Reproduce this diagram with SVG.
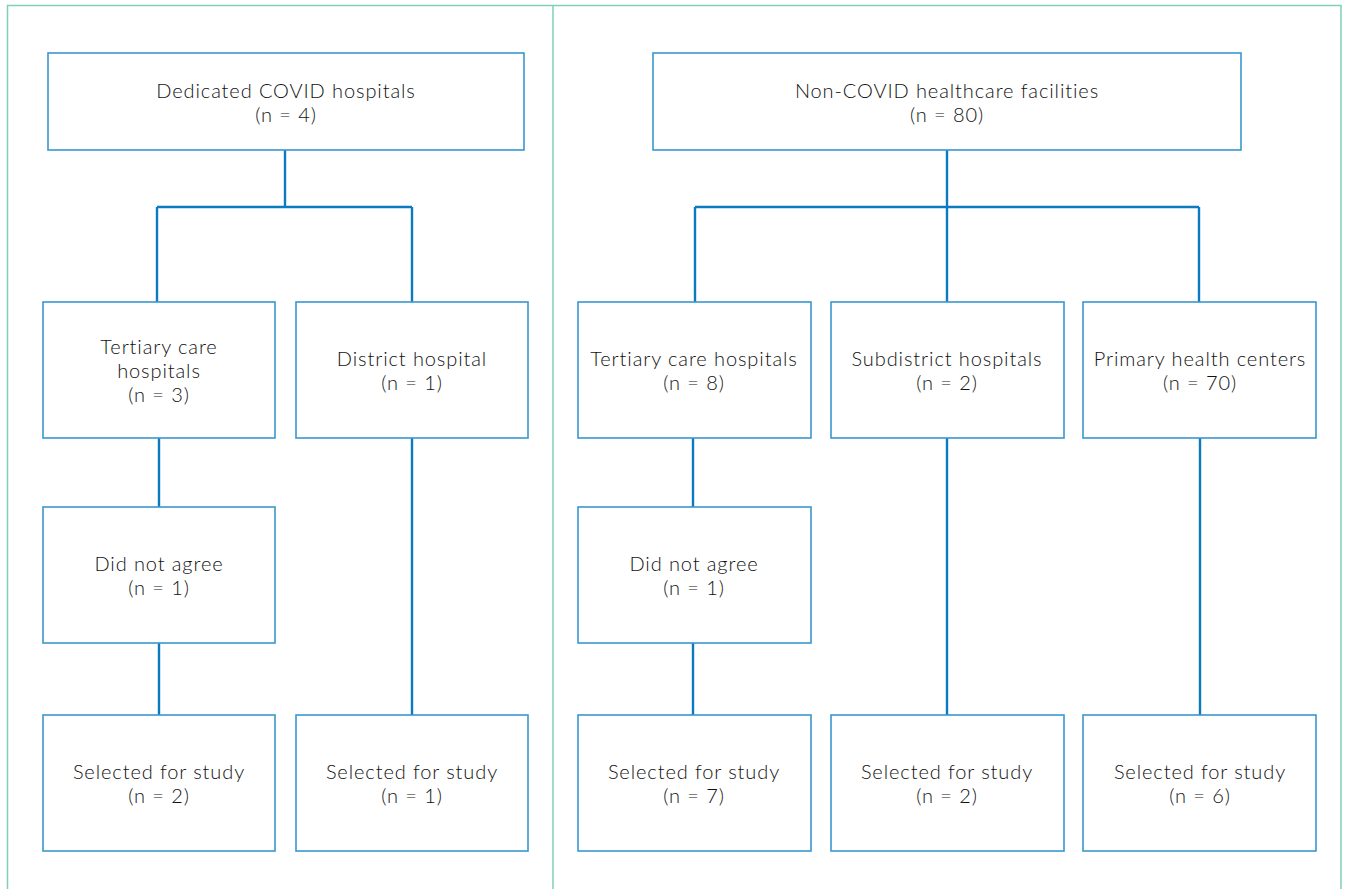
<svg xmlns="http://www.w3.org/2000/svg" width="1346" height="889" viewBox="0 0 1346 889">
<style>
.frame{fill:none;stroke:#7fd1b5;stroke-width:1.5}
.box{fill:#fff;stroke:#3a97d0;stroke-width:1.6}
.conn{fill:none;stroke:#0b7bc0;stroke-width:2.4}
text{font-family:Lato,"Noto Sans","Liberation Sans",sans-serif;font-size:20px;letter-spacing:0.9px;font-weight:300;fill:#111;text-anchor:middle}
</style>
<rect width="1346" height="889" fill="#fff"/>
<g id="frame">
<path class="frame" d="M7.5,895 V5.5 H1341 V895"/>
<line class="frame" x1="553" y1="5.5" x2="553" y2="895"/>
</g>
<g id="connectors">
<path class="conn" d="M285,150 V207 M157,207 H412 M157,207 V302 M412,207 V302"/>
<path class="conn" d="M159,438 V507 M159,643 V715 M412,438 V715"/>
<path class="conn" d="M947,150 V207 M695,207 H1199 M695,207 V302 M947,207 V302 M1199,207 V302"/>
<path class="conn" d="M693,438 V507 M693,641 V715 M947,438 V715 M1200,438 V715"/>
</g>
<g id="n1"><rect class="box" x="48" y="53" width="476" height="97"/><text x="286" y="98">Dedicated COVID hospitals<tspan x="286" dy="24">(n = 4)</tspan></text></g>
<g id="n2"><rect class="box" x="653" y="53" width="588" height="97"/><text x="947" y="98">Non-COVID healthcare facilities<tspan x="947" dy="24">(n = 80)</tspan></text></g>
<g id="n3"><rect class="box" x="43" y="302" width="232" height="136"/><text x="159" y="354">Tertiary care<tspan x="159" dy="24">hospitals</tspan><tspan x="159" dy="24">(n = 3)</tspan></text></g>
<g id="n4"><rect class="box" x="296" y="302" width="232" height="136"/><text x="412" y="366">District hospital<tspan x="412" dy="24">(n = 1)</tspan></text></g>
<g id="n5"><rect class="box" x="578" y="302" width="233" height="136"/><text x="694" y="366">Tertiary care hospitals<tspan x="694" dy="24">(n = 8)</tspan></text></g>
<g id="n6"><rect class="box" x="831" y="302" width="233" height="136"/><text x="947" y="366">Subdistrict hospitals<tspan x="947" dy="24">(n = 2)</tspan></text></g>
<g id="n7"><rect class="box" x="1083" y="302" width="233" height="136"/><text x="1200" y="366">Primary health centers<tspan x="1200" dy="24">(n = 70)</tspan></text></g>
<g id="n8"><rect class="box" x="43" y="507" width="232" height="136"/><text x="159" y="571">Did not agree<tspan x="159" dy="24">(n = 1)</tspan></text></g>
<g id="n9"><rect class="box" x="578" y="507" width="233" height="136"/><text x="694" y="571">Did not agree<tspan x="694" dy="24">(n = 1)</tspan></text></g>
<g id="n10"><rect class="box" x="43" y="715" width="232" height="136"/><text x="159" y="779">Selected for study<tspan x="159" dy="24">(n = 2)</tspan></text></g>
<g id="n11"><rect class="box" x="296" y="715" width="232" height="136"/><text x="412" y="779">Selected for study<tspan x="412" dy="24">(n = 1)</tspan></text></g>
<g id="n12"><rect class="box" x="578" y="715" width="233" height="136"/><text x="694" y="779">Selected for study<tspan x="694" dy="24">(n = 7)</tspan></text></g>
<g id="n13"><rect class="box" x="831" y="715" width="233" height="136"/><text x="947" y="779">Selected for study<tspan x="947" dy="24">(n = 2)</tspan></text></g>
<g id="n14"><rect class="box" x="1083" y="715" width="233" height="136"/><text x="1200" y="779">Selected for study<tspan x="1200" dy="24">(n = 6)</tspan></text></g>
</svg>
